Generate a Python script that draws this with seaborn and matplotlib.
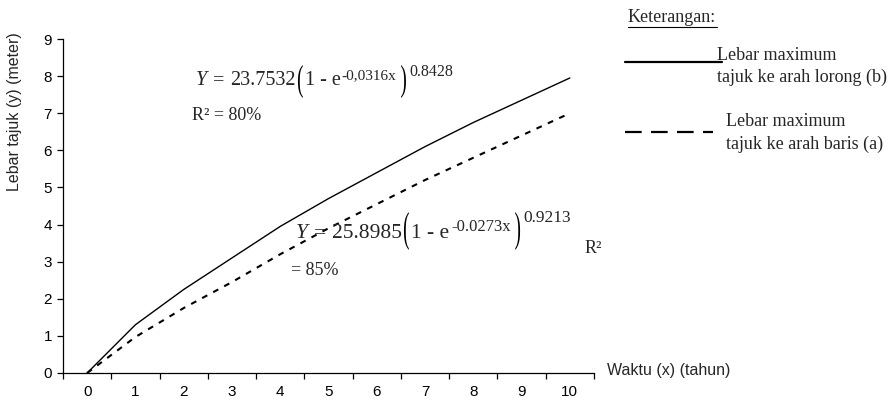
import matplotlib
matplotlib.use("Agg")
import matplotlib.pyplot as plt
import seaborn as sns
import pandas as pd
import numpy as np
from matplotlib.lines import Line2D
from matplotlib.textpath import TextPath
from matplotlib.patches import PathPatch
from matplotlib.font_manager import FontProperties
from matplotlib.transforms import Affine2D, IdentityTransform

# Data
years = [0, 1, 2, 3, 4, 5, 6, 7, 8, 9, 10]
lebar_lorong = [0, 1.3, 2.25, 3.1, 3.95, 4.7, 5.4, 6.1, 6.75, 7.35, 7.95]   # (b) solid
lebar_baris = [0, 0.97, 1.75, 2.45, 3.2, 3.9, 4.55, 5.2, 5.8, 6.4, 7.0]     # (a) dashed
y_ticks = [0, 1, 2, 3, 4, 5, 6, 7, 8, 9]

df = pd.DataFrame({'tahun': years, 'b': lebar_lorong, 'a': lebar_baris})

sns.set_style("ticks")
plt.rcParams['font.family'] = ['Liberation Sans', 'DejaVu Sans']
serif = ['Liberation Serif', 'DejaVu Serif']

W, H = 893, 401
fig = plt.figure(figsize=(W / 100, H / 100), dpi=100)
ax = fig.add_axes([63 / W, 1 - 373 / H, (594 - 63) / W, (373 - 39) / H])

sns.lineplot(data=df, x='tahun', y='b', ax=ax, color='black', linewidth=1.0)
sns.lineplot(data=df, x='tahun', y='a', ax=ax, color='black', linewidth=1.5,
             linestyle=(0, (2.8, 3.2)))

ax.set_xlim(-0.5, 10.5)
ax.set_ylim(0, 9)
sns.despine(ax=ax)
for s in ['left', 'bottom']:
    ax.spines[s].set_linewidth(0.9)
    ax.spines[s].set_color('black')

# x: ticks at category edges, labels at centres
ax.set_xticks(np.arange(-0.5, 11, 1))
ax.set_xticklabels([])
ax.set_xticks(years, minor=True)
ax.set_xticklabels([str(v) for v in years], minor=True)
ax.tick_params(axis='x', which='major', length=4, width=0.9, color='black', direction='out')
ax.tick_params(axis='x', which='minor', length=0, pad=9, labelsize=11, labelcolor='black')
ax.set_yticks(y_ticks)
ax.tick_params(axis='y', length=4, width=0.9, color='black', labelsize=11,
               labelcolor='black', pad=4)
ax.set_xlabel('')
ax.set_ylabel('')

# axis titles
fig.text(15 / W, 1 - 112 / H, 'Lebar tajuk (y) (meter)', rotation=90,
         ha='center', va='center', fontsize=11.5)
fig.text(607 / W, 1 - 371 / H, 'Waktu (x) (tahun)', ha='left', va='center', fontsize=11.5)

renderer = fig.canvas.get_renderer()
serif_prop = FontProperties(family=serif)


def piece_width(s, size, style):
    t = fig.text(0, 0, s, fontsize=size, family=serif, style=style)
    w = t.get_window_extent(renderer).width
    t.remove()
    return w


def draw_paren(ch, x, base, above, below, glyph_px=19):
    # tall thin bracket: glyph stretched vertically to span the given pixel range
    p = TextPath((0, 0), ch, size=glyph_px, prop=serif_prop)
    v = p.vertices
    x0, x1 = v[:, 0].min(), v[:, 0].max()
    y0, y1 = v[:, 1].min(), v[:, 1].max()
    sy = (above + below) / (y1 - y0)
    tr = Affine2D().translate(-x0, -y0).scale(1, sy).translate(x, H - base - below)
    fig.add_artist(PathPatch(p, transform=tr + IdentityTransform(), color='black', lw=0))
    return (x1 - x0)


def draw_equation(x0, base, pieces, above, below):
    # pieces: (text, fontsize, raise_px, style, gap_after_px); '(' / ')' drawn as tall brackets
    x = x0
    for s, size, rise, style, gap in pieces:
        if s in '()':
            x += draw_paren(s, x, base, above, below) + gap
        else:
            fig.text(x / W, 1 - (base - rise) / H, s, fontsize=size, family=serif,
                     style=style, ha='left', va='baseline')
            x += piece_width(s, size, style) + gap


draw_equation(196, 85, [
    ('Y', 14.5, 0, 'italic', 6), ('=', 14.5, 0, 'normal', 6), ('23.7532', 14.5, 0, 'normal', 1),
    ('(', 0, 0, 'normal', 2), ('1 - e', 14.5, 0, 'normal', 1),
    ('-0,0316x', 11, 6, 'normal', 4), (')', 0, 0, 'normal', 3), ('0.8428', 11.5, 9, 'normal', 0)],
    above=20, below=13)
fig.text(192 / W, 1 - 120 / H, 'R² = 80%', family=serif, ha='left', va='baseline', fontsize=13)

draw_equation(296, 238, [
    ('Y', 15.5, 0, 'italic', 6), ('=', 15.5, 0, 'normal', 6), ('25.8985', 15.5, 0, 'normal', 1),
    ('(', 0, 0, 'normal', 2), ('1 - e', 15.5, 0, 'normal', 2),
    ('-0.0273x', 12, 7, 'normal', 4), (')', 0, 0, 'normal', 3), ('0.9213', 12.5, 16, 'normal', 0)],
    above=26, below=12)
fig.text(585 / W, 1 - 253 / H, 'R²', family=serif, ha='left', va='baseline', fontsize=13)
fig.text(291 / W, 1 - 275 / H, '= 85%', family=serif, ha='left', va='baseline', fontsize=13)

# legend block
fig.text(628 / W, 1 - 18 / H, 'Keterangan:', family=serif, ha='left', va='center', fontsize=13)
fig.add_artist(Line2D([628 / W, 717 / W], [1 - 27 / H, 1 - 27 / H], color='black', linewidth=0.8))
fig.add_artist(Line2D([625 / W, 722 / W], [1 - 62 / H, 1 - 62 / H], color='black', linewidth=1.6))
fig.text(717 / W, 1 - 55 / H, 'Lebar maximum', family=serif, ha='left', va='center', fontsize=13)
fig.text(717 / W, 1 - 77 / H, 'tajuk ke arah lorong (b)', family=serif, ha='left', va='center', fontsize=13)
fig.add_artist(Line2D([625 / W, 713 / W], [1 - 132 / H, 1 - 132 / H], color='black', linewidth=1.6,
                      linestyle=(0, (7.5, 4.2))))
fig.text(726 / W, 1 - 121 / H, 'Lebar maximum', family=serif, ha='left', va='center', fontsize=13)
fig.text(726 / W, 1 - 144 / H, 'tajuk ke arah baris (a)', family=serif, ha='left', va='center', fontsize=13)

fig.savefig('out.png', dpi=100)
